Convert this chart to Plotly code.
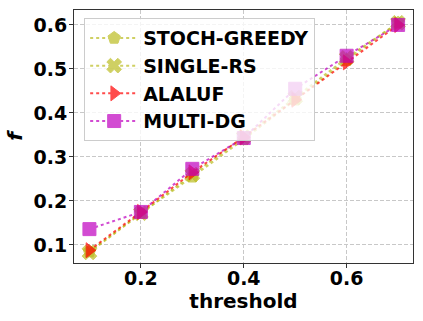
import plotly.graph_objects as go

# 데이터
thresholds = [0.1, 0.2, 0.3, 0.4, 0.5, 0.6, 0.7]
stoch_greedy = [0.085, 0.172, 0.255, 0.340, 0.430, 0.520, 0.605]
single_rs = [0.083, 0.172, 0.260, 0.345, 0.435, 0.525, 0.605]
alaluf = [0.088, 0.175, 0.265, 0.345, 0.430, 0.515, 0.600]
multi_dg = [0.136, 0.175, 0.273, 0.343, 0.455, 0.530, 0.600]

series = [
    ("STOCH-GREEDY", stoch_greedy, "#bcbd22", "pentagon"),
    ("SINGLE-RS", single_rs, "#bcbd22", "x"),
    ("ALALUF", alaluf, "#ff0000", "triangle-right"),
    ("MULTI-DG", multi_dg, "#bf00bf", "square"),
]

fig = go.Figure()
for name, vals, color, sym in series:
    fig.add_trace(go.Scatter(
        x=thresholds, y=vals, name=name,
        mode="lines+markers",
        line=dict(color=color, width=2, dash="dot"),
        marker=dict(symbol=sym, size=13, color=color, line=dict(color=color, width=1)),
        opacity=0.7,
    ))

font = dict(family="DejaVu Sans", size=19, color="black", weight="bold")

fig.update_layout(
    width=423, height=321,
    margin=dict(l=74, r=10, t=10, b=58),
    paper_bgcolor="white", plot_bgcolor="white",
    font=font,
    showlegend=True,
    legend=dict(
        x=0.03, y=0.968, xanchor="left", yanchor="top",
        bgcolor="rgba(255,255,255,0.8)",
        bordercolor="#cccccc", borderwidth=1,
        font=dict(family="DejaVu Sans", size=19, color="black", weight="bold"),
        itemwidth=48,
    ),
)

grid = dict(showgrid=True, gridcolor="#c8c8c8", griddash="4px,2px", gridwidth=1,
            showline=True, linecolor="#333333", linewidth=1, mirror=True,
            ticks="outside", ticklen=4, tickcolor="#333333",
            zeroline=False, automargin=False)

fig.update_xaxes(
    range=[0.07, 0.729],
    tickvals=[0.2, 0.4, 0.6], ticktext=["0.2", "0.4", "0.6"],
    title=dict(text="threshold", font=dict(size=20, weight="bold"), standoff=2),
    ticklabelstandoff=-6,
    **grid,
)
fig.update_yaxes(
    range=[0.059, 0.634],
    tickvals=[0.1, 0.2, 0.3, 0.4, 0.5, 0.6],
    ticktext=["0.1", "0.2", "0.3", "0.4", "0.5", "0.6"],
    title=dict(text="<i>f</i>", font=dict(size=20, weight="bold"), standoff=5),
    ticklabelstandoff=-2,
    **grid,
)

# 페이지 기본 여백 제거
fig.write_html("out.html", config={"displayModeBar": False},
               post_script="document.body.style.margin='0';")
